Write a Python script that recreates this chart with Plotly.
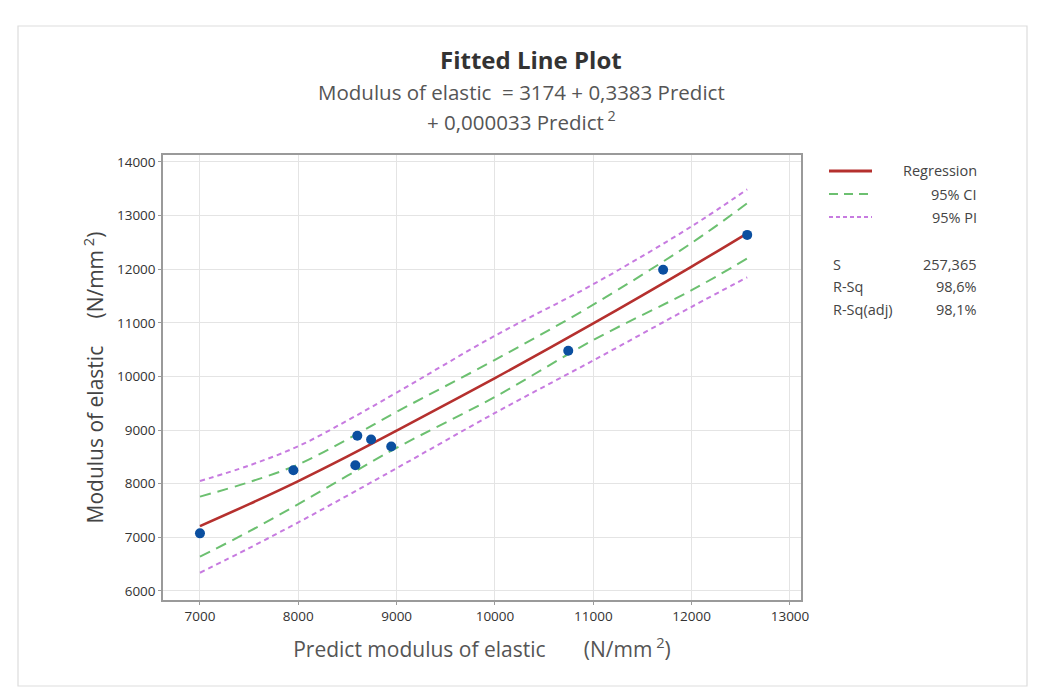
import plotly.graph_objects as go

# ---- data ----
predict = [7000, 7950, 8600, 8580, 8740, 8945, 10745, 11710, 12565]
modulus = [7075, 8250, 8895, 8345, 8825, 8695, 10480, 11990, 12640]

fit_x = [7000, 7500, 8000, 8500, 9000, 10000, 11000, 12000, 12565]
fit_y = [7210, 7620, 8050, 8510, 8990, 9970, 10990, 12050, 12670]
ci_upper = [7760, 8030, 8360, 8830, 9340, 10310, 11340, 12490, 13230]
ci_lower = [6640, 7110, 7620, 8150, 8670, 9620, 10680, 11610, 12200]
pi_upper = [8050, 8340, 8700, 9180, 9700, 10760, 11720, 12800, 13490]
pi_lower = [6340, 6800, 7280, 7780, 8290, 9320, 10300, 11300, 11850]

x_ticks = [7000, 8000, 9000, 10000, 11000, 12000, 13000]
y_ticks = [6000, 7000, 8000, 9000, 10000, 11000, 12000, 13000, 14000]

stat_names = ["S", "R-Sq", "R-Sq(adj)"]
stat_values = ["257,365", "98,6%", "98,1%"]

RED = "#B5302E"
GREEN = "#6CC070"
PURPLE = "#C77BE0"
BLUE = "#0B4FA0"
FONT = "Open Sans, Noto Sans, DejaVu Sans, sans-serif"

fig = go.Figure()
fig.add_trace(go.Scatter(x=fit_x, y=pi_upper, mode="lines", line=dict(color=PURPLE, width=2, dash="5px,4px", shape="spline", smoothing=1), hoverinfo="skip"))
fig.add_trace(go.Scatter(x=fit_x, y=pi_lower, mode="lines", line=dict(color=PURPLE, width=2, dash="5px,4px", shape="spline", smoothing=1), hoverinfo="skip"))
fig.add_trace(go.Scatter(x=fit_x, y=ci_upper, mode="lines", line=dict(color=GREEN, width=2, dash="11px,7px", shape="spline", smoothing=1), hoverinfo="skip"))
fig.add_trace(go.Scatter(x=fit_x, y=ci_lower, mode="lines", line=dict(color=GREEN, width=2, dash="11px,7px", shape="spline", smoothing=1), hoverinfo="skip"))
fig.add_trace(go.Scatter(x=fit_x, y=fit_y, mode="lines", line=dict(color=RED, width=2.6, shape="spline", smoothing=1), hoverinfo="skip"))
fig.add_trace(go.Scatter(x=predict, y=modulus, mode="markers", marker=dict(color=BLUE, size=10, symbol="circle")))

OFF = 8  # page body margin
L, R, T, B = 163 - OFF, 801 - OFF, 155 - OFF, 600 - OFF
W = R - L
H = B - T


def px(x):
    return (x - OFF - L) / W


def py(y):
    return (B - (y - OFF)) / H


shapes = [
    dict(type="rect", xref="paper", yref="paper", x0=px(5), x1=px(1050), y0=py(705), y1=py(7),
         line=dict(color="#EEEEEE", width=1), fillcolor="rgba(0,0,0,0)", layer="below"),
    dict(type="rect", xref="paper", yref="paper", x0=px(18), x1=px(1027), y0=py(686), y1=py(26),
         line=dict(color="#DDDDDD", width=1.2), fillcolor="rgba(0,0,0,0)", layer="below"),
]
legend_items = [("Regression", RED, "solid", 2.8, 171), ("95% CI", GREEN, "9px,6px", 2, 194), ("95% PI", PURPLE, "4px,3px", 2, 217)]
annotations = []
LEG_SIZE = 14.5
for name, col, dash, w, yy in legend_items:
    shapes.append(dict(type="line", xref="paper", yref="paper", x0=px(829), x1=px(872), y0=py(yy), y1=py(yy),
                       line=dict(color=col, width=w, dash=dash)))
    annotations.append(dict(text=name, xref="paper", yref="paper", x=px(979), y=py(yy), xanchor="right", yanchor="middle",
                            showarrow=False, font=dict(family=FONT, size=LEG_SIZE, color="#444")))
for i, (n, v) in enumerate(zip(stat_names, stat_values)):
    yy = 264 + i * 22.5
    annotations.append(dict(text=n, xref="paper", yref="paper", x=px(831), y=py(yy), xanchor="left", yanchor="middle",
                            showarrow=False, font=dict(family=FONT, size=LEG_SIZE, color="#444")))
    annotations.append(dict(text=v, xref="paper", yref="paper", x=px(979), y=py(yy), xanchor="right", yanchor="middle",
                            showarrow=False, font=dict(family=FONT, size=LEG_SIZE, color="#444")))

annotations += [
    dict(text="<b>Fitted Line Plot</b>", xref="paper", yref="paper", x=px(531), y=py(60), xanchor="center", yanchor="middle",
         showarrow=False, font=dict(family=FONT, size=24, color="#333")),
    dict(text="Modulus of elastic \u00a0= 3174 + 0,3383 Predict", xref="paper", yref="paper", x=px(521), y=py(92), xanchor="center",
         yanchor="middle", showarrow=False, font=dict(family=FONT, size=20.5, color="#555")),
    dict(text="+ 0,000033 Predict<sup> 2</sup>", xref="paper", yref="paper", x=px(521), y=py(121), xanchor="center",
         yanchor="middle", showarrow=False, font=dict(family=FONT, size=20.5, color="#555")),
]

axis_common = dict(showgrid=True, gridcolor="#E4E4E4", gridwidth=1, zeroline=False,
                   showline=True, linecolor="#9A9A9A", linewidth=1.5, mirror=True,
                   ticks="outside", ticklen=3, tickcolor="#9A9A9A",
                   tickfont=dict(family=FONT, size=13.5, color="#333"))

fig.update_layout(
    width=1044, height=700,
    margin=dict(l=L, r=1044 - R, t=T, b=700 - B),
    paper_bgcolor="white", plot_bgcolor="white",
    showlegend=False,
    shapes=shapes, annotations=annotations,
    xaxis=dict(range=[6624, 13112], tickvals=x_ticks, ticktext=[str(t) for t in x_ticks],
               title=dict(text="Predict modulus of elastic\u00a0\u00a0\u00a0\u00a0\u00a0\u00a0\u00a0(N/mm<sup> 2</sup>)",
                          font=dict(family=FONT, size=21, color="#555"), standoff=18),
               **axis_common),
    yaxis=dict(range=[5832, 14130], tickvals=y_ticks, ticktext=[str(t) for t in y_ticks],
               title=dict(text="Modulus of elastic\u00a0\u00a0\u00a0\u00a0\u00a0(N/mm<sup> 2</sup>)",
                          font=dict(family=FONT, size=21, color="#444"), standoff=8),
               **axis_common),
)

fig.write_html("out.html")
